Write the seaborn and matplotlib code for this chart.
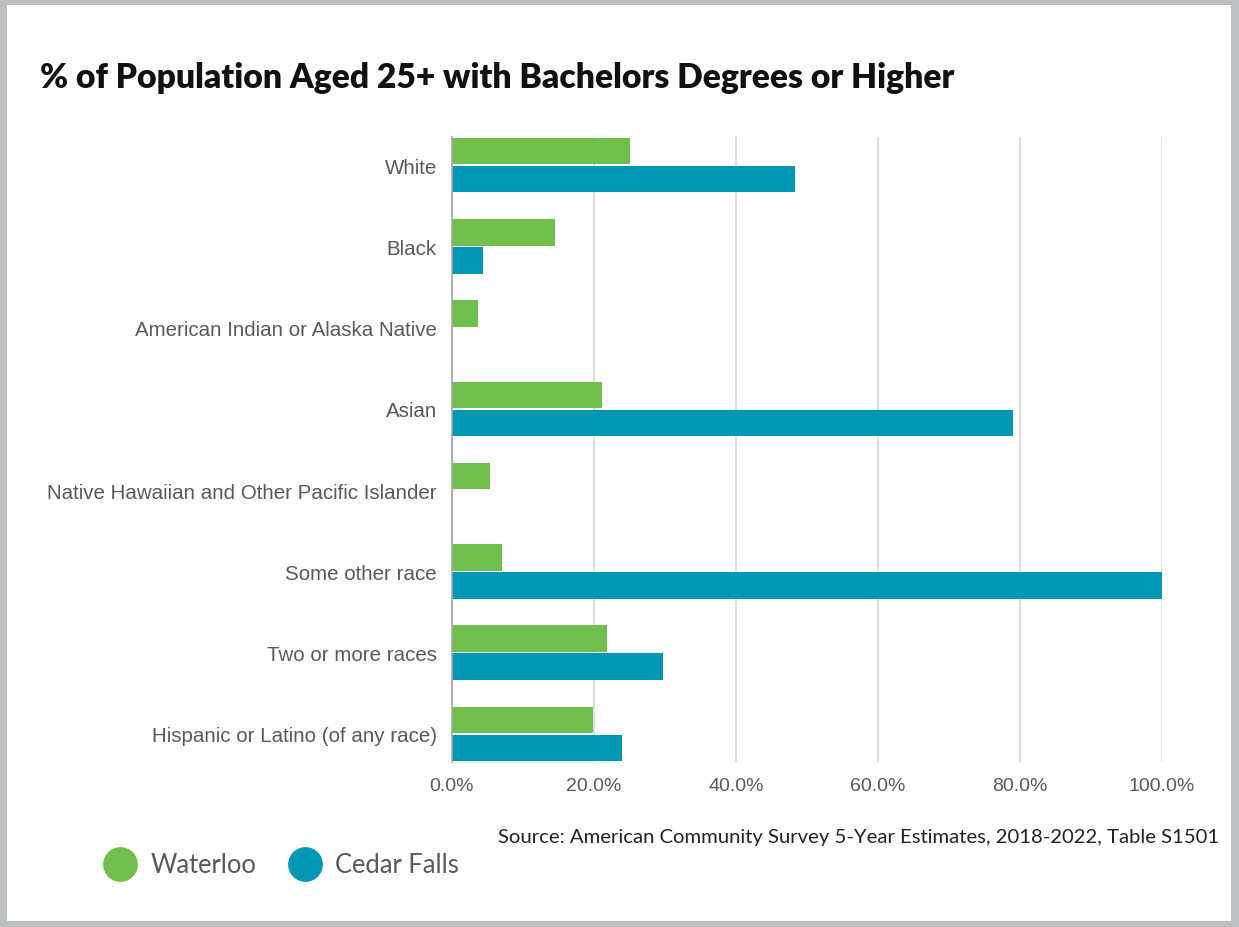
import matplotlib
matplotlib.use("Agg")
import matplotlib.pyplot as plt
from matplotlib.lines import Line2D
from matplotlib.patches import Rectangle
from matplotlib.ticker import PercentFormatter
import seaborn as sns
import pandas as pd

# Share of population aged 25+ holding a bachelor's degree or higher (%)
categories = [
    "White",
    "Black",
    "American Indian or Alaska Native",
    "Asian",
    "Native Hawaiian and Other Pacific Islander",
    "Some other race",
    "Two or more races",
    "Hispanic or Latino (of any race)",
]
waterloo = [25.1, 14.5, 3.6, 21.1, 5.3, 7.1, 21.9, 19.9]
cedar_falls = [48.3, 4.3, 0.0, 79.0, 0.0, 100.0, 29.7, 24.0]
cities = ["Waterloo", "Cedar Falls"]
city_colors = ["#70BF4C", "#0097B2"]

df = pd.DataFrame({
    "Group": categories * 2,
    "City": [cities[0]] * len(categories) + [cities[1]] * len(categories),
    "Percent": waterloo + cedar_falls,
})

sns.set_theme(style="white")
plt.rcParams["font.family"] = ["Liberation Sans", "DejaVu Sans"]

W, H = 1239, 928
fig = plt.figure(figsize=(W / 100, H / 100), dpi=100)
fig.patch.set_facecolor("#BEBFC1")
# white card inside the grey frame
fig.patches.append(Rectangle((7 / W, 6 / H), (1231 - 7) / W, (922 - 6) / H,
                             transform=fig.transFigure, facecolor="white",
                             edgecolor="none", zorder=-10))

ax = fig.add_axes([452 / W, 1 - 763 / H, (1162 - 452) / W, (763 - 138) / H])
ax.set_zorder(1)
ax.set_facecolor("none")

sns.barplot(data=df, y="Group", x="Percent", hue="City", orient="h",
            palette=city_colors, width=0.69, gap=0.05, ax=ax,
            order=categories, hue_order=cities, legend=False,
            edgecolor="none", saturation=1)

ax.set_xlim(0, 100)
ax.set_ylim(len(categories) - 1 + 0.345, -0.345)
ax.xaxis.set_major_formatter(PercentFormatter(xmax=100, decimals=1))
ax.set_xticks([0, 20, 40, 60, 80, 100])
ax.grid(axis="x", color="#D9D9D9", linewidth=1.2)
ax.set_axisbelow(True)
for s in ["top", "right", "bottom"]:
    ax.spines[s].set_visible(False)
ax.spines["left"].set_color("#A6A6A6")
ax.spines["left"].set_linewidth(1.2)
ax.set_xlabel("")
ax.set_ylabel("")
ax.tick_params(axis="y", length=0, pad=11, labelsize=14.8, labelcolor="#595959")
ax.tick_params(axis="x", length=0, pad=11, labelsize=14, labelcolor="#595959")

fig.text(40 / W, 1 - 78 / H, "% of Population Aged 25+ with Bachelors Degrees or Higher",
         fontsize=24.2, fontweight="heavy", family="Lato", color="#111111",
         ha="left", va="center")

fig.text(1219 / W, 1 - 838 / H,
         "Source: American Community Survey 5-Year Estimates, 2018-2022, Table S1501",
         fontsize=14.6, family="Lato", color="#222222", ha="right", va="center")

handles = [Line2D([], [], marker="o", linestyle="", markersize=24,
                  markerfacecolor=c, markeredgecolor=c) for c in city_colors]
fig.legend(handles, cities, loc="center left", bbox_to_anchor=(94 / W, 1 - 866 / H),
           ncol=2, frameon=False, prop={"family": "Lato", "size": 18.4},
           labelcolor="#595959", handletextpad=0.2, columnspacing=0.9,
           borderaxespad=0, borderpad=0)

fig.savefig("out.png", dpi=100, facecolor=fig.get_facecolor())
